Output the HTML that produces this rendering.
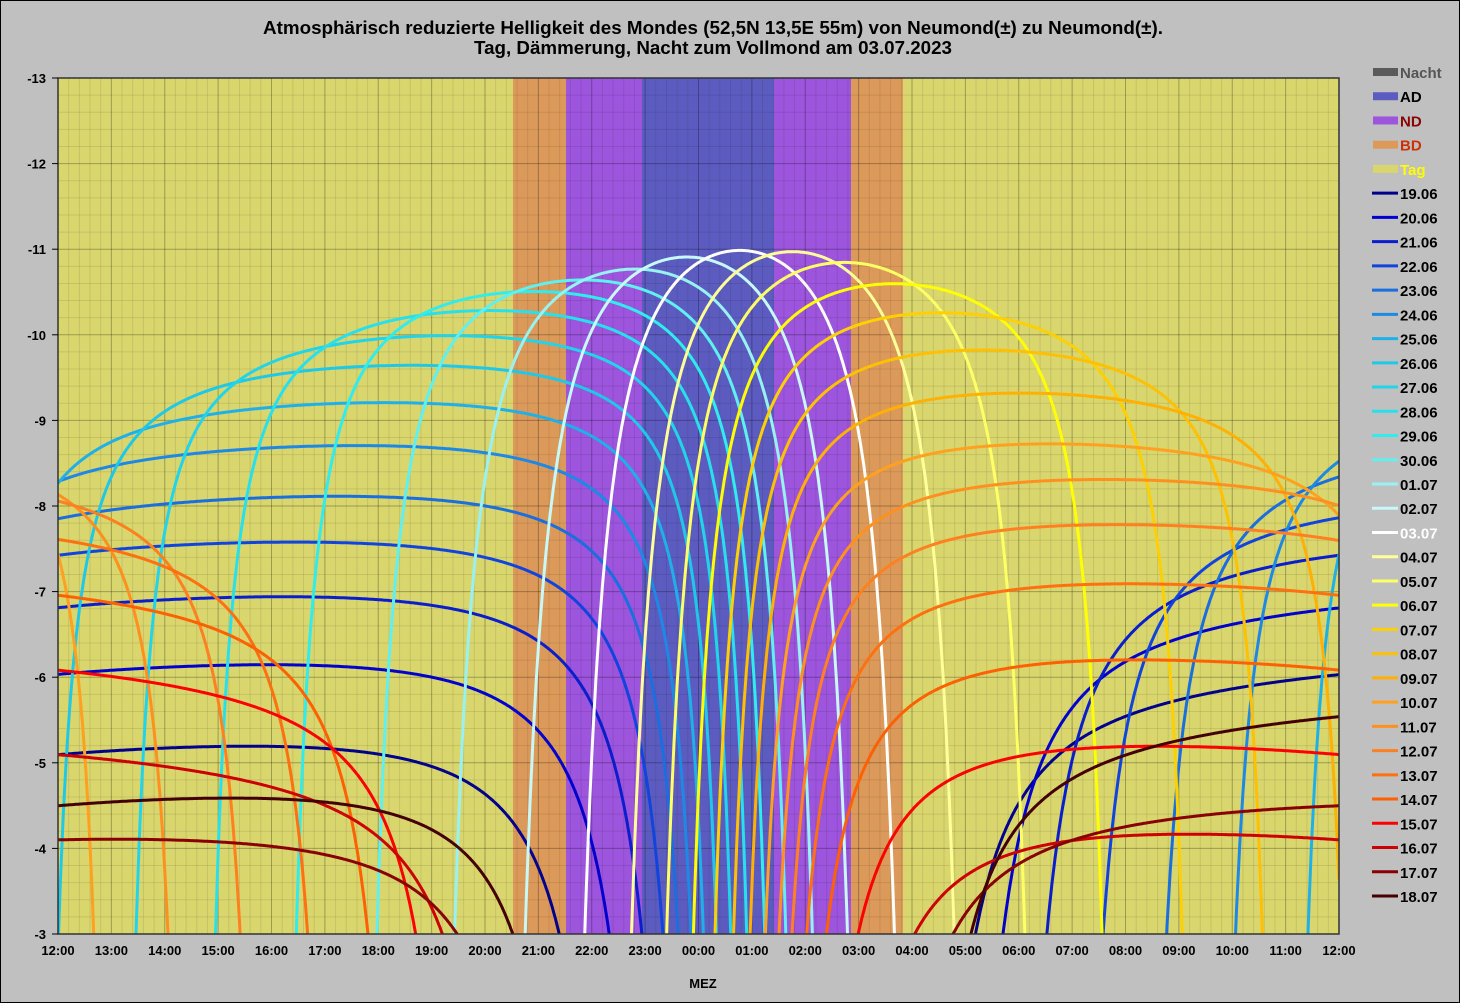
<!DOCTYPE html>
<html><head><meta charset="utf-8"><style>
body{margin:0;background:#c0c0c0;}
svg{display:block;font-family:"Liberation Sans",Arial,sans-serif;}
</style></head><body>
<svg id="s" width="1460" height="1003" xmlns="http://www.w3.org/2000/svg">
<rect x="0" y="0" width="1460" height="1003" fill="#c0c0c0" stroke="#000" stroke-width="2"/>
<text x="713" y="34" text-anchor="middle" font-size="18" font-weight="bold" fill="#000" textLength="900" lengthAdjust="spacingAndGlyphs">Atmosphärisch reduzierte Helligkeit des Mondes (52,5N 13,5E  55m) von Neumond(±) zu Neumond(±).</text>
<text x="713" y="54" text-anchor="middle" font-size="18" font-weight="bold" fill="#000" textLength="478" lengthAdjust="spacingAndGlyphs">Tag, Dämmerung, Nacht zum Vollmond am 03.07.2023</text>
<defs><clipPath id="cp"><rect x="58" y="78" width="1281" height="856"/></clipPath></defs>
<rect x="58" y="78" width="1281" height="856" fill="#d9d66e"/>
<rect x="513" y="78" width="53" height="856" fill="#dc9a5a"/>
<rect x="566" y="78" width="76" height="856" fill="#9c55dc"/>
<rect x="642" y="78" width="132" height="856" fill="#5c5cc0"/>
<rect x="774" y="78" width="77" height="856" fill="#9c55dc"/>
<rect x="851" y="78" width="52" height="856" fill="#dc9a5a"/>
<g id="grid"></g>
<g id="curves" clip-path="url(#cp)"></g>
<rect x="58" y="78" width="1281" height="856" fill="none" stroke="#333" stroke-width="1.5"/>
<g id="labels" font-size="13" font-weight="bold" fill="#000"></g>
<text x="703" y="988" text-anchor="middle" font-size="13" font-weight="bold">MEZ</text>
<g id="legend" font-size="15" font-weight="bold"></g>
</svg>
<script>
var NS="http://www.w3.org/2000/svg";
function el(p,n,a,t){var e=document.createElementNS(NS,n);for(var k in a)e.setAttribute(k,a[k]);if(t!=null)e.textContent=t;p.appendChild(e);return e;}
var X0=58,X1=1339,Y0=78,Y1=934,pxh=(X1-X0)/24,pxm=(Y1-Y0)/10;
var g=document.getElementById('grid');
for(var i=0;i<=120;i++){var x=X0+i*pxh/5;el(g,'line',{x1:x,x2:x,y1:Y0,y2:Y1,stroke:i%5?'rgba(0,0,0,0.09)':'rgba(0,0,0,0.28)','stroke-width':1});}
for(var i=0;i<=50;i++){var y=Y0+i*pxm/5;el(g,'line',{x1:X0,x2:X1,y1:y,y2:y,stroke:i%5?'rgba(0,0,0,0.09)':'rgba(0,0,0,0.28)','stroke-width':1});}
var L=document.getElementById('labels');
for(var v=-13;v<=-3;v++){var y=Y0+(v+13)*pxm;el(L,'text',{x:46,y:y+5,'text-anchor':'end'},String(v));el(L,'line',{x1:52,x2:58,y1:y,y2:y,stroke:'#000'});}
for(var h=0;h<=24;h++){var x=X0+h*pxh;var hh=(12+h)%24;el(L,'text',{x:x,y:955,'text-anchor':'middle'},(hh<10?'0':'')+hh+':00');}
var cols=['#00008b','#0000cc','#0a1ecc','#1144dd','#1a6edd','#1e88e5','#20b0e8','#20c8e8','#22d4ea','#28e0ec','#30ecec','#60f0f0','#98f2f2','#c8f8f8','#ffffff','#ffff99','#ffff66','#ffff00','#ffd000','#ffc000','#ffb000','#ffa020','#ff9020','#ff8020','#ff7010','#ff6000','#ff0000','#cc0000','#880000','#440000'];
var names=['19.06','20.06','21.06','22.06','23.06','24.06','25.06','26.06','27.06','28.06','29.06','30.06','01.07','02.07','03.07','04.07','05.07','06.07','07.07','08.07','09.07','10.07','11.07','12.07','13.07','14.07','15.07','16.07','17.07','18.07'];
var P=[-5.1,-6.05,-6.85,-7.5,-8.0,-8.6,-9.1,-9.55,-9.9,-10.2,-10.45,-10.6,-10.7,-10.85,-10.97,-11.0,-10.95,-10.78,-10.5,-10.15,-9.7,-9.2,-8.6,-8.25,-7.7,-7.0,-6.1,-5.1,-4.1,-4.5,-5.55,-6.3];
function Pi(s){if(s<0)s=0;if(s>30.99)s=30.99;var a=Math.floor(s),f=s-a;return P[a]*(1-f)+P[a+1]*f;}
var phi=54*Math.PI/180,k=0.3;
function AM(hd){return 1/(Math.sin(hd*Math.PI/180)+0.50572*Math.pow(hd+6.07995,-1.6364));}
var C=document.getElementById('curves');
for(var i=0;i<30;i++){
 var d=i-14;
 var T=24.77+0.85*d+0.652*Math.sin(2*Math.PI*d/27.3);
 while(T>36)T-=24.84;
 var dec=-28*Math.cos(2*Math.PI*d/27.3)*Math.PI/180;
 var hmax=90-54+dec*180/Math.PI;var Xm=AM(hmax);
 var segs=[],cur=[];
 for(var t=12;t<=36.0001;t+=0.02){
  var H=2*Math.PI*(t-T)/24.84;
  var sh=Math.sin(phi)*Math.sin(dec)+Math.cos(phi)*Math.cos(dec)*Math.cos(H);
  var hd=Math.asin(sh)*180/Math.PI;
  var m=null;
  if(hd>-1.5){m=Pi(i+(t-12)/24)+k*(AM(hd)-Xm);}
  if(m!==null&&m<-2.5){cur.push((X0+(t-12)*pxh).toFixed(1)+','+(Y0+(m+13)*pxm).toFixed(1));}
  else{if(cur.length>1)segs.push(cur);cur=[];}
 }
 if(cur.length>1)segs.push(cur);
 segs.forEach(function(s){el(C,'polyline',{points:s.join(' '),fill:'none',stroke:cols[i],'stroke-width':3,'stroke-linejoin':'round'});});
}
var G=document.getElementById('legend');
var band=[['Nacht','#5a5a5a','#555'],['AD','#5c5cc0','#000'],['ND','#9c55dc','#8b0000'],['BD','#dc9a5a','#cc3300'],['Tag','#d9d66e','#ffff00']];
var yy=72,dy=(896-72)/34;
band.forEach(function(b,j){var y=yy+j*dy;el(G,'rect',{x:1373,y:y-4,width:25,height:8,fill:b[1]});el(G,'text',{x:1400,y:y+6,fill:b[2]},b[0]);});
for(var i=0;i<30;i++){var y=yy+(i+5)*dy;el(G,'line',{x1:1372,x2:1398,y1:y,y2:y,stroke:cols[i],'stroke-width':3});el(G,'text',{x:1400,y:y+6,fill:i==14?'#fff':'#000'},names[i]);}
</script>
</body></html>
